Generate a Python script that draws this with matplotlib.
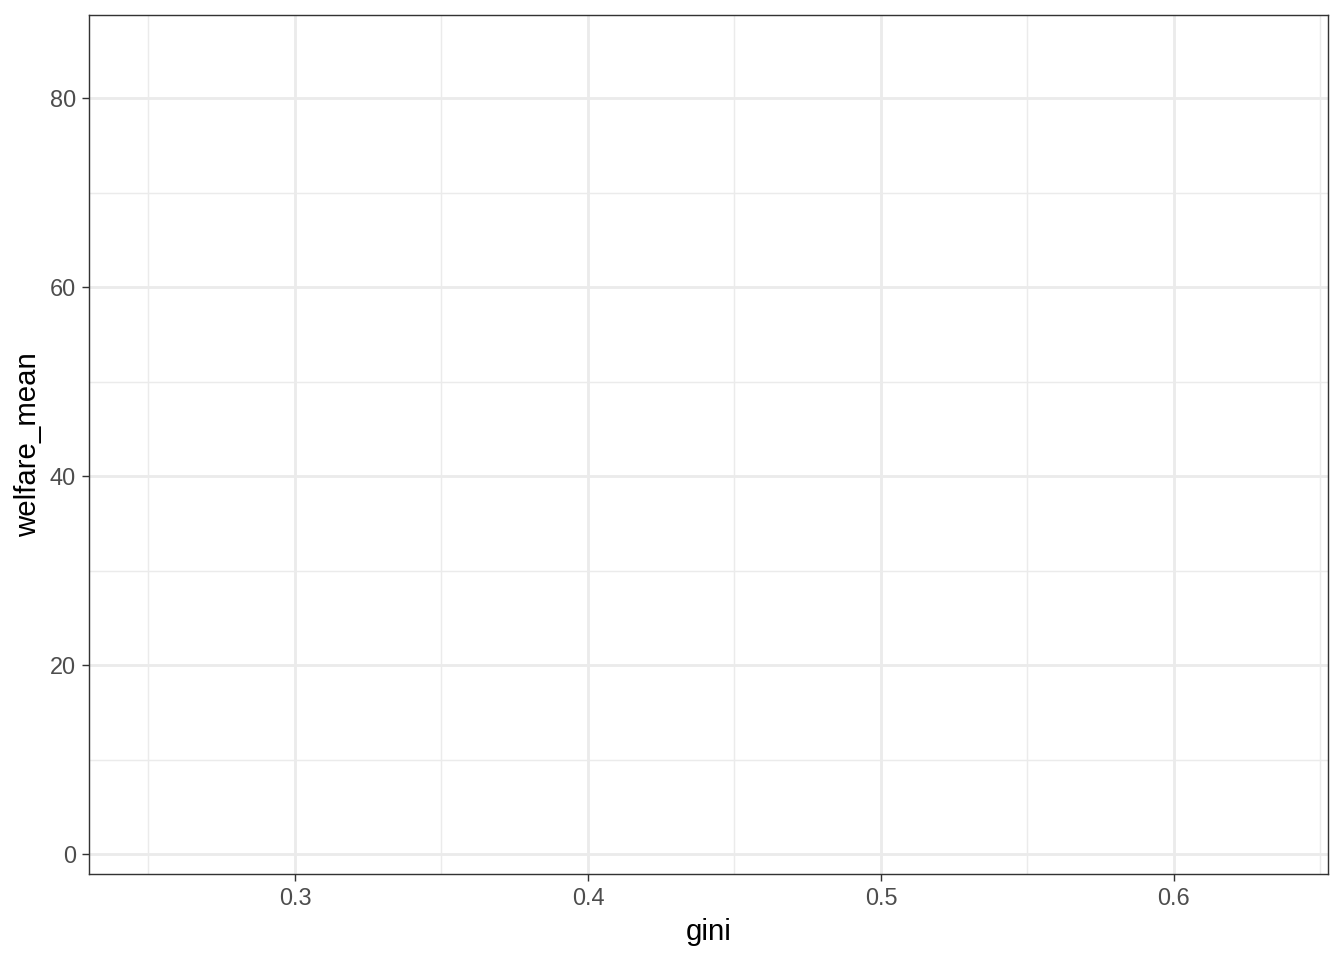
import numpy as np
import matplotlib
matplotlib.use("Agg")
import matplotlib.pyplot as plt

matplotlib.rcParams["font.family"] = ["Liberation Sans", "DejaVu Sans"]

# データ（元の図には点が描かれていない）
gini = []
welfare_mean = []

x_ticks = [0.3, 0.4, 0.5, 0.6]
x_minor = [0.25, 0.35, 0.45, 0.55, 0.65]
y_ticks = [0, 20, 40, 60, 80]
y_minor = [10, 30, 50, 70]

fig = plt.figure(figsize=(7, 5), dpi=192)
ax = fig.add_axes([89 / 1344, 1 - 874 / 960, (1328 - 89) / 1344, (874 - 15) / 960])

ax.scatter(gini, welfare_mean, s=10, color="black")

ax.set_xlim(0.2297, 0.6526)
ax.set_ylim(-2.1, 88.8)

ax.set_xticks(x_ticks)
ax.set_xticklabels([str(v) for v in x_ticks])
ax.set_xticks(x_minor, minor=True)
ax.set_yticks(y_ticks)
ax.set_yticks(y_minor, minor=True)

# theme_bw 風のグリッド
ax.grid(which="major", color="#EBEBEB", linewidth=1.07)
ax.grid(which="minor", color="#EBEBEB", linewidth=0.53)
ax.set_axisbelow(True)

for sp in ax.spines.values():
    sp.set_color("#333333")
    sp.set_linewidth(0.53)

ax.tick_params(which="major", length=2.75, width=0.53, color="#333333",
               labelsize=8.8, labelcolor="#4D4D4D", pad=2.2)
ax.tick_params(which="minor", length=0)

ax.set_xlabel("gini", fontsize=11, color="black", labelpad=2.75)
ax.set_ylabel("welfare_mean", fontsize=11, color="black", labelpad=2.75)

fig.savefig("out.png", dpi=192)
